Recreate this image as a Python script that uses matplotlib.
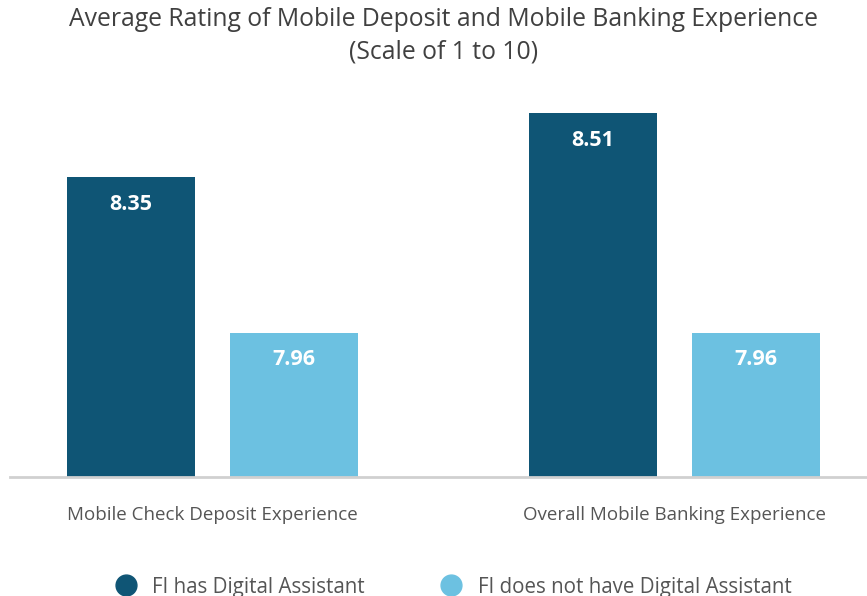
import numpy as np
import matplotlib.pyplot as plt
from matplotlib.lines import Line2D

plt.rcParams["font.family"] = ["Open Sans", "DejaVu Sans"]

categories = ["Mobile Check Deposit Experience", "Overall Mobile Banking Experience"]
series_names = ["FI has Digital Assistant", "FI does not have Digital Assistant"]
has_assistant = [8.35, 8.51]
no_assistant = [7.96, 7.96]

dark = "#0f5575"
light = "#6cc1e1"
text_grey = "#555555"

fig = plt.figure(figsize=(8.67, 5.96), dpi=100)
ax = fig.add_axes([10 / 867, 119 / 596, 857 / 867, 397 / 596])

x = np.arange(len(categories))
width = 0.277
offset = 0.177

bars1 = ax.bar(x - offset, has_assistant, width, color=dark)
bars2 = ax.bar(x + offset, no_assistant, width, color=light)

ymin = 7.6
ax.set_ylim(ymin, ymin + 397 / 400)
ax.set_xlim(-0.438, 1.4167)

# value labels just inside the top of each bar
for bars, vals in [(bars1, has_assistant), (bars2, no_assistant)]:
    for b, v in zip(bars, vals):
        ax.text(b.get_x() + b.get_width() / 2, v - 0.0675, f"{v:.2f}",
                ha="center", va="center", color="white",
                fontsize=15.5, fontweight="bold")

for s in ["top", "right", "left"]:
    ax.spines[s].set_visible(False)
ax.spines["bottom"].set_color("#d0d0d0")
ax.spines["bottom"].set_linewidth(2)
ax.set_yticks([])
ax.set_xticks(x)
ax.set_xticklabels(categories, fontsize=13.5, color=text_grey)
ax.tick_params(axis="x", length=0, pad=21)

title_x = 444 / 867
fig.text(title_x, 1 - 20 / 596, "Average Rating of Mobile Deposit and Mobile Banking Experience",
         ha="center", va="center", fontsize=17.8, color="#404040")
fig.text(title_x, 1 - 52 / 596, "(Scale of 1 to 10)",
         ha="center", va="center", fontsize=17.8, color="#404040")

handles = [
    Line2D([], [], marker="o", linestyle="none", markersize=15, color=dark),
    Line2D([], [], marker="o", linestyle="none", markersize=15, color=light),
]
leg = fig.legend(handles, series_names, loc="center", bbox_to_anchor=(0.522, 1 - 587 / 596),
                 ncol=2, frameon=False, fontsize=14.8, handletextpad=0.7,
                 columnspacing=3.6, handlelength=1.2)
for t in leg.get_texts():
    t.set_color(text_grey)

fig.savefig("out.png", dpi=100)
